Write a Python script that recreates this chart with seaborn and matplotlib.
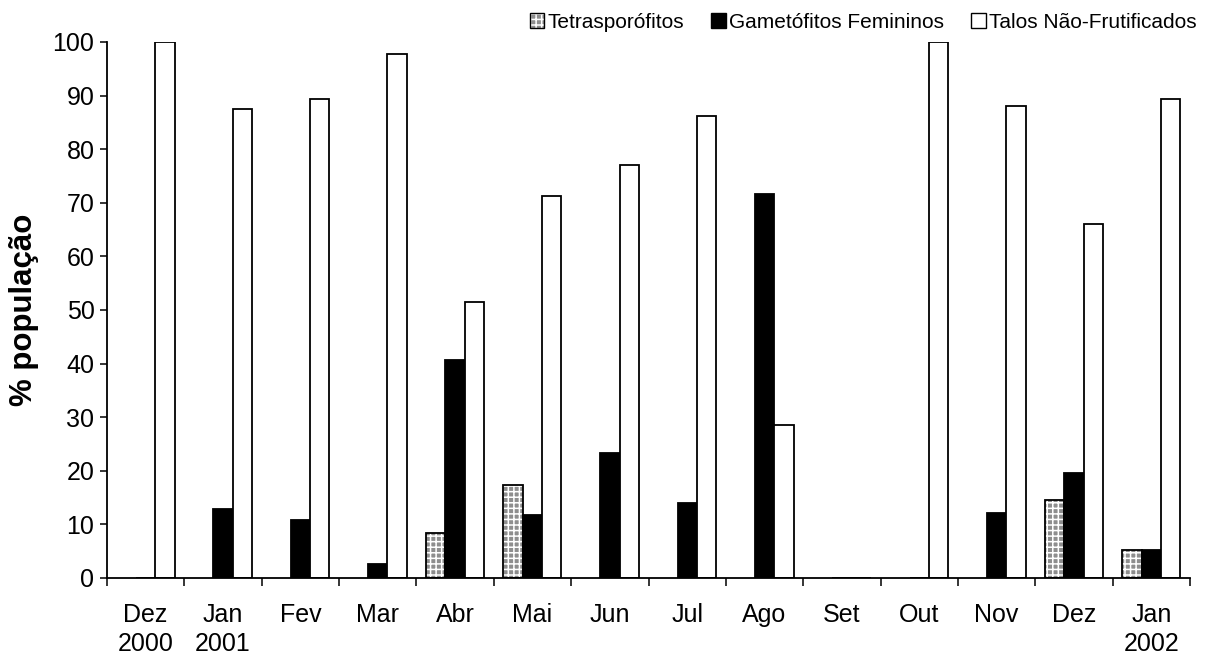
import matplotlib
matplotlib.use("Agg")
import matplotlib.pyplot as plt
from matplotlib.patches import Patch, Rectangle
from matplotlib.ticker import FixedLocator
import numpy as np
import pandas as pd
import seaborn as sns

# Monthly phenology of the population (% of individuals)
meses = ["Dez\n2000", "Jan\n2001", "Fev", "Mar", "Abr", "Mai", "Jun",
         "Jul", "Ago", "Set", "Out", "Nov", "Dez", "Jan\n2002"]
fases = ["Tetrasporófitos", "Gametófitos Femininos", "Talos Não-Frutificados"]

tetrasporofitos = [0, 0, 0, 0, 8.3, 17.4, 0, 0, 0, 0, 0, 0, 14.6, 5.3]
gametofitos = [0, 12.9, 10.8, 2.6, 40.7, 11.7, 23.3, 14.0, 71.6, 0, 0, 12.1, 19.6, 5.3]
nao_frutificados = [100, 87.5, 89.4, 97.8, 51.5, 71.3, 77.0, 86.2, 28.6, 0, 100, 88.1, 66.0, 89.4]

df = pd.DataFrame({
    "mes": meses * 3,
    "fase": [fases[0]] * len(meses) + [fases[1]] * len(meses) + [fases[2]] * len(meses),
    "pct": tetrasporofitos + gametofitos + nao_frutificados,
})

sns.set_style("ticks")
plt.rcParams["font.family"] = ["Liberation Sans", "DejaVu Sans"]
plt.rcParams["hatch.linewidth"] = 1.1
for key in ["text.color", "axes.labelcolor", "xtick.color", "ytick.color",
            "xtick.labelcolor", "ytick.labelcolor"]:
    plt.rcParams[key] = "black"

fig = plt.figure(figsize=(12.07, 6.56), dpi=100)
ax = fig.add_axes([0.0886, 0.119, 0.8974, 0.817])

grey = "#8e8e8e"
palette = {fases[0]: grey, fases[1]: "black", fases[2]: "white"}
sns.barplot(data=df, x="mes", y="pct", hue="fase", order=meses, hue_order=fases,
            palette=palette, width=0.75, edgecolor="black", linewidth=1.3,
            saturation=1, legend=False, ax=ax)

# checkered fill for the tetrasporophyte bars: grey face with a white grid hatch,
# plus a black outline drawn on top
for bar in ax.containers[0]:
    bar.set_facecolor(grey)
    bar.set_edgecolor("white")
    bar.set_hatch("+++")
    bar.set_linewidth(0)
    x, y = bar.get_xy()
    if bar.get_height() > 0:
        ax.add_patch(Rectangle((x, y), bar.get_width(), bar.get_height(),
                               fill=False, edgecolor="black", linewidth=1.3, zorder=3))

ax.set_ylim(0, 100)
ax.set_xlim(-0.5, len(meses) - 0.5)
ax.set_yticks(np.arange(0, 101, 10))
ax.set_xlabel("")
ax.set_ylabel("% população", fontsize=22.5, fontweight="bold", labelpad=10, color="black")

ax.tick_params(axis="y", labelsize=18, length=5, width=1.1, direction="out", pad=4,
               colors="black")
ax.tick_params(axis="x", which="major", labelsize=18, length=0, pad=18, colors="black")
for lbl in ax.get_xticklabels():
    lbl.set_linespacing(1.25)
ax.xaxis.set_minor_locator(FixedLocator(np.arange(-0.5, len(meses), 1.0)))
ax.tick_params(axis="x", which="minor", length=6, width=1.1, direction="out",
               colors="black")

for side in ["top", "right"]:
    ax.spines[side].set_visible(False)
for side in ["left", "bottom"]:
    ax.spines[side].set_linewidth(1.3)
    ax.spines[side].set_color("black")
    ax.spines[side].set_zorder(4)

# legend above the plot area
h_tetra = (Patch(facecolor=grey, edgecolor="white", hatch="+++", linewidth=0),
           Patch(facecolor="none", edgecolor="black", linewidth=1.0))
h_gam = Patch(facecolor="black", edgecolor="black", linewidth=1.0)
h_nf = Patch(facecolor="white", edgecolor="black", linewidth=1.0)
leg = fig.legend([h_tetra, h_gam, h_nf], fases, loc="center right",
                 bbox_to_anchor=(0.998, 0.966), ncol=3, frameon=False, fontsize=15,
                 handlelength=0.7, handleheight=0.7, handletextpad=0.15,
                 columnspacing=1.3, borderaxespad=0)
for t in leg.get_texts():
    t.set_color("black")

fig.savefig("out.png", dpi=100)
